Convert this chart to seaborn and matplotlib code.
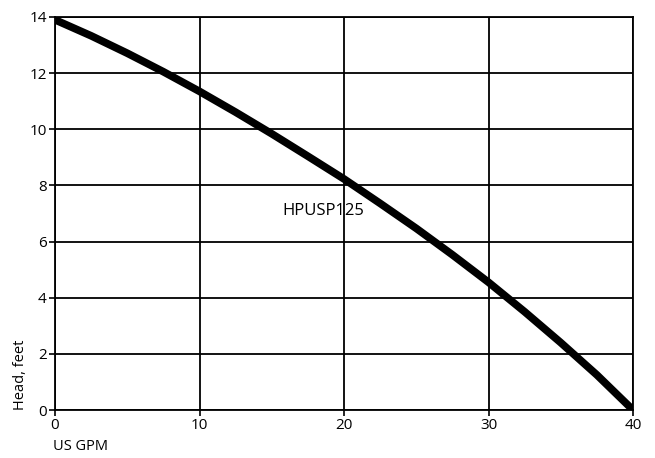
import matplotlib
matplotlib.use("Agg")
import matplotlib.pyplot as plt
import seaborn as sns
import pandas as pd

GPM = [0, 2.5, 5, 7.5, 10, 12.5, 15, 17.5, 20, 22.5, 25, 27.5, 30, 32.5, 35, 37.5, 40]
HEAD = [13.9, 13.33, 12.71, 12.05, 11.35, 10.61, 9.84, 9.04, 8.23, 7.36, 6.47,
        5.53, 4.55, 3.5, 2.4, 1.25, 0.0]
X_TICKS = [0, 10, 20, 30, 40]
Y_TICKS = [0, 2, 4, 6, 8, 10, 12, 14]
MODEL = "HPUSP125"

sns.set_theme(style="white")
plt.rcParams["font.family"] = ["Open Sans", "DejaVu Sans"]

df = pd.DataFrame({"gpm": GPM, "head": HEAD})

fig = plt.figure(figsize=(6.55, 4.58), dpi=100)
ax = fig.add_axes([55 / 655, 48 / 458, 578 / 655, 393 / 458])

sns.lineplot(data=df, x="gpm", y="head", ax=ax, color="black", linewidth=5.5,
             solid_capstyle="butt", solid_joinstyle="round", zorder=3)

ax.set_xlim(0, 40)
ax.set_ylim(0, 14)
ax.set_xticks(X_TICKS)
ax.set_yticks(Y_TICKS)
ax.grid(True, color="black", linewidth=1.3)
for s in ax.spines.values():
    s.set_color("black")
    s.set_linewidth(1.3)
ax.tick_params(axis="both", colors="black", labelsize=11, length=4, width=1.2,
               direction="out", left=True, bottom=True, pad=2)
ax.set_xlabel("")
ax.set_ylabel("")

ax.text(18.6, 7.1, MODEL, fontsize=12, color="black", ha="center", va="center")

fig.text(21 / 655, 48 / 458, "Head, feet", rotation=90, fontsize=10.5,
         ha="center", va="bottom", color="black")
fig.text(53 / 655, 12 / 458, "US GPM", fontsize=10.5, ha="left", va="center",
         color="black")

fig.savefig("out.png", dpi=100)
